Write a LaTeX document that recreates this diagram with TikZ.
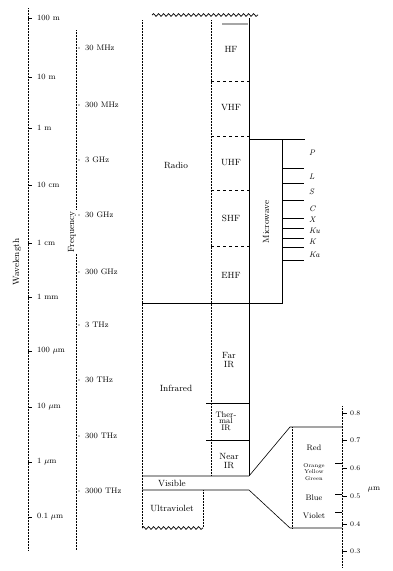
\documentclass[tikz,border=0pt]{standalone}
\usetikzlibrary{decorations.pathmorphing}
\begin{document}
\begin{tikzpicture}[x=1pt,y=-1pt,
  lab/.style={font=\footnotesize, inner sep=1pt},
  band/.style={font=\small, inner sep=1pt, align=center},
  mwl/.style={font=\footnotesize\itshape, inner sep=1pt, anchor=west},
  vlab/.style={font=\scriptsize, inner sep=0.5pt, align=center},
  axisline/.style={densely dotted, line width=0.5pt},
  sepline/.style={dashed, line width=0.4pt},
  frame/.style={line width=0.6pt},
  tickline/.style={line width=0.5pt},
  wavy/.style={decorate, decoration={snake, amplitude=1.4pt, segment length=5pt}, line width=0.7pt}]
\useasboundingbox (0,0) rectangle (393,571);

% ---------- wavelength axis ----------
\node[rotate=90, font=\small, inner sep=1pt] (wl) at (17,262) {Wavelength};
\coordinate (wt) at (28,8);
\coordinate (wb) at (28,550);
\draw[axisline] (wt) -- (wb);
\foreach \y/\t [count=\i] in {18/100 m, 77/10 m, 128/1 m, 185/10 cm, 243/1 cm, 297/1 mm, 351/100 $\mu$m, 407/10 $\mu$m, 462/1 $\mu$m, 517/0.1 $\mu$m}{
  \coordinate (wk\i) at (28,\y);
  \draw[tickline] (wk\i) -- ++(4,0);
  \node[lab, anchor=west] (w\i) at (36,\y) {\t};
}

% ---------- frequency axis ----------
\coordinate (ft) at (76,30);
\coordinate (fb) at (76,550);
\draw[axisline] (ft) -- (fb);
\node[rotate=90, font=\small, fill=white, inner sep=1pt] (fl) at (72,232) {Frequency};
\foreach \y/\t [count=\i] in {48/30 MHz, 105/300 MHz, 160/3 GHz, 215/30 GHz, 272/300 GHz, 325/3 THz, 380/30 THz, 436/300 THz, 491/3000 THz}{
  \coordinate (fk\i) at (76,\y);
  \fill (fk\i) ++(3,0) circle (0.6pt);
  \node[lab, anchor=west] (f\i) at (84,\y) {\t};
}

% ---------- columns ----------
\coordinate (XLt) at (142,20);
\coordinate (XLb) at (142,528);
\coordinate (XSt) at (211,20);
\coordinate (XSb) at (211,476);
\coordinate (XRt) at (249,18);
\coordinate (XRb) at (249,476);
\draw[wavy] (152,15) -- (258,15);
\draw[line width=1.6pt, gray!70] (222,24) -- (248,24);
\draw[axisline] (XLt) -- (XLb);
\draw[axisline] (XSt) -- (XSb);
\draw[frame] (XRt) -- (XRb);

% radio bands
\foreach \y in {81,136,190,246}{
  \draw[sepline] (211,\y) -- (249,\y);
}
\node[band] (hf)  at (231,49)  {HF};
\node[band] (vhf) at (231,108) {VHF};
\node[band] (uhf) at (231,163) {UHF};
\node[band] (shf) at (231,218) {SHF};
\node[band] (ehf) at (231,275) {EHF};
\node[band] (radio) at (176,165) {Radio};

% microwave
\coordinate (mwA) at (249,139);
\coordinate (mwB) at (305,139);
\coordinate (mwC) at (282,139);
\coordinate (mwD) at (282,303);
\coordinate (rib) at (142,303);
\draw[frame] (mwA) -- (mwB);
\draw[frame] (mwC) -- (mwD) -- (rib);
\node[rotate=90, font=\small, inner sep=1pt] (mw) at (266,222) {Microwave};
\foreach \y in {168,183,200,218,228,238,247,260}{
  \draw[frame] (282,\y) -- (304,\y);
}
\node[mwl] (bP)  at (308,153) {P};
\node[mwl] (bL)  at (308,177) {L};
\node[mwl] (bS)  at (308,192) {S};
\node[mwl] (bC)  at (308,209) {C};
\node[mwl] (bX)  at (308,220) {X};
\node[mwl] (bKu) at (308,231) {Ku};
\node[mwl] (bK)  at (308,242) {K};
\node[mwl] (bKa) at (308,255) {Ka};

% infrared
\node[band] (ir) at (176,388) {Infrared};
\node[band] (far) at (229,360) {Far\\[-2pt]IR};
\draw[frame] (206,403) -- (249,403);
\draw[frame] (206,440) -- (249,440);
\node[band, font=\footnotesize] (therm) at (226,421) {Ther-\\[-3pt]mal\\[-3pt]IR};
\node[band] (near) at (229,461) {Near\\[-2pt]IR};

% visible & ultraviolet
\coordinate (v1) at (249,476);
\coordinate (v2) at (290,427);
\coordinate (v3) at (342,427);
\coordinate (u1) at (249,490);
\coordinate (u2) at (290,528);
\coordinate (u3) at (342,528);
\draw[frame] (142,476) -- (v1) -- (v2) -- (v3);
\draw[frame] (142,490) -- (u1) -- (u2) -- (u3);
\node[band] (vis) at (172,483) {Visible};
\draw[axisline] (203,490) -- (203,527);
\draw[wavy] (142,528) -- (203,528);
\node[band] (uv) at (172,508) {Ultraviolet};

% visible box
\draw[axisline] (292,427) -- (292,528);
\node[vlab, font=\footnotesize] (red) at (314,448) {Red};
\node[vlab, font=\fontsize{5.5pt}{6.6pt}\selectfont] (oyg) at (314,472) {Orange\\Yellow\\Green};
\node[vlab, font=\footnotesize] (blue) at (314,498) {Blue};
\node[vlab, font=\footnotesize] (vio) at (314,516) {Violet};

% micrometre scale
\coordinate (st) at (342,406);
\coordinate (sb) at (342,568);
\draw[axisline] (st) -- (sb);
\foreach \y/\t [count=\i] in {413/0.8, 440/0.7, 468/0.6, 496/0.5, 524/0.4, 551/0.3}{
  \draw[tickline] (342,\y) -- (347,\y);
  \node[lab, anchor=west, font=\scriptsize] (s\i) at (349,\y) {\t};
}
\foreach \y in {463,494,512}{
  \draw[tickline] (335,\y) -- (342,\y);
}
\node[font=\footnotesize, inner sep=1pt] (um) at (374,490) {$\mu$m};
\end{tikzpicture}
\end{document}
